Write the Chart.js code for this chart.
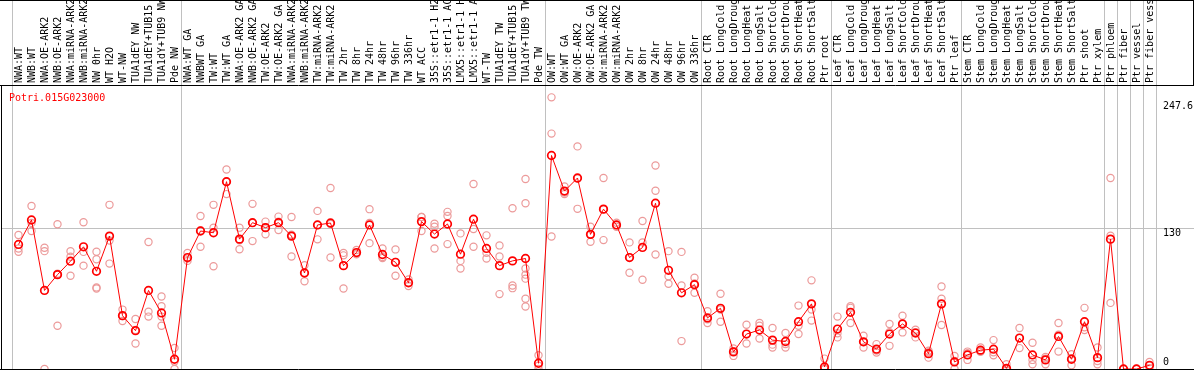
<!DOCTYPE html>
<html>
<head>
<meta charset="utf-8">
<script src="https://cdn.jsdelivr.net/npm/chart.js@4.4.1/dist/chart.umd.min.js"></script>
<style>
  body { margin: 0; background: #fff; }
</style>
</head>
<body>
<canvas id="geneChart" width="1194" height="370"></canvas>
<script>
const geneName = 'Potri.015G023000';

const categories = [
  'NWA:WT', 'NWB:WT', 'NWA:OE-ARK2', 'NWB:OE-ARK2', 'NWA:miRNA-ARK2', 'NWB:miRNA-ARK2', 'NW 0hr', 'WT H2O', 'WT-NW',
  'TUA1dEY NW', 'TUA1dEY+TUB15 NW', 'TUA1dY+TUB9 NW', 'Pde NW',
  'NWA:WT GA', 'NWBWT GA', 'TW:WT', 'TW:WT GA', 'NWA:OE-ARK2 GA', 'NWB:OE-ARK2 GA', 'TW:OE-ARK2', 'TW:OE-ARK2 GA',
  'NWA:miRNA-ARK2', 'NWB:miRNA-ARK2', 'TW:miRNA-ARK2', 'TW:miRNA-ARK2', 'TW 2hr', 'TW 8hr', 'TW 24hr', 'TW 48hr',
  'TW 96hr', 'TW 336hr', 'WT ACC', '35S::etr1-1 H2O', '35S::etr1-1 ACC', 'LMX5::etr1-1 H2O', 'LMX5::etr1-1 ACC',
  'WT-TW', 'TUA1dEY TW', 'TUA1dEY+TUB15 TW', 'TUA1dY+TUB9 TW', 'Pde TW',
  'OW:WT', 'OW:WT GA', 'OW:OE-ARK2', 'OW:OE-ARK2 GA', 'OW:miRNA-ARK2', 'OW:miRNA-ARK2', 'OW 2hr', 'OW 8hr',
  'OW 24hr', 'OW 48hr', 'OW 96hr', 'OW 336hr',
  'Root CTR', 'Root LongCold', 'Root LongDrought', 'Root LongHeat', 'Root LongSalt', 'Root ShortCold',
  'Root ShortDrought', 'Root ShortHeat', 'Root ShortSalt', 'Ptr root',
  'Leaf CTR', 'Leaf LongCold', 'Leaf LongDrought', 'Leaf LongHeat', 'Leaf LongSalt', 'Leaf ShortCold',
  'Leaf ShortDrought', 'Leaf ShortHeat', 'Leaf ShortSalt', 'Ptr leaf',
  'Stem CTR', 'Stem LongCold', 'Stem LongDrought', 'Stem LongHeat', 'Stem LongSalt', 'Stem ShortCold',
  'Stem ShortDrought', 'Stem ShortHeat', 'Stem ShortSalt', 'Ptr shoot',
  'Ptr xylem', 'Ptr phloem', 'Ptr fiber', 'Ptr vessel', 'Ptr fiber vessel'
];

// mean expression per sample
const means = [
  115.1, 137.7, 72.6, 87.2, 99.6, 112.9, 90.3, 122.8, 49.3, 35.4, 72.6, 51.8, 9.0,
  103.0, 127.5, 125.9, 173.1, 120.0, 135.2, 130.6, 135.2, 122.8, 88.7, 133.1, 134.9, 95.5, 107.6, 133.1,
  105.8, 98.6, 79.7, 136.2, 124.7, 134.0, 106.1, 138.4, 111.4, 95.5, 99.9, 102.1, 5.3,
  197.3, 164.4, 176.5, 124.4, 147.7, 133.1, 103.0, 112.3, 153.2, 91.2, 70.4, 77.9,
  47.2, 56.1, 15.8, 32.3, 36.0, 26.7, 25.4, 43.7, 60.2, 1.9,
  36.9, 52.4, 25.1, 18.3, 32.3, 41.6, 33.2, 14.2, 60.2, 6.5,
  13.0, 17.4, 18.3, 0.6, 28.6, 13.0, 8.4, 30.1, 9.0, 43.7,
  10.5, 120.0, 0, 0, 3.4
];

// individual replicates per sample
const replicates = [
  [123.8, 111.4, 108.3], [150.7, 135, 127.5], [112, 108.9, 0], [133.7, 88, 40], [108.9, 103.7, 86.2],
  [135.6, 108.2, 95.5], [108.3, 101.4, 75.4, 74.4], [151.7, 118.8, 97.4], [54.9, 49, 44.4], [46.2, 36, 23.6],
  [117.3, 53, 48.4], [67, 58, 48.4, 40], [19.5, 7, 0],
  [107.3, 102, 99.9], [141.4, 128, 112.9], [151.7, 130.6, 94.9], [184.3, 173, 161.6], [130.6, 119, 110.7],
  [152.6, 135, 118.2], [136.2, 131, 124.4], [140.8, 136, 128.4], [140.5, 124, 103.9], [95.8, 89, 81],
  [146.1, 133, 119.8], [167.2, 134, 103], [107.3, 105, 74.4], [110, 107, 106], [147.7, 135, 116.3],
  [111.4, 103.5, 102.6], [110.5, 99, 86.2], [82.8, 80, 76.6], [140.5, 140.5, 127.5], [134.3, 131.5, 111.4],
  [145.2, 141.4, 115.4], [125.3, 99.9, 92.8], [170.9, 129.3, 112.9], [123.5, 107.3, 102.1], [114.2, 103.9, 69.2],
  [148.6, 77.2, 74.7], [175.5, 153.2, 92.8, 87.2, 83.5, 64.9, 57.7], [12.7, 3, 0],
  [251, 217.5, 122.5], [168.7, 163, 161.6], [205.7, 176, 148], [131.5, 124, 117.5], [176.5, 147.5, 119.1],
  [135.2, 133, 131.5], [117, 103, 89], [136.8, 117, 82.5], [188, 164.7, 105.8], [108.9, 85.6, 78.8],
  [108.2, 77.2, 25.8], [84.4, 79, 70.4],
  [53.3, 46, 42.5], [69.5, 55, 43.7], [18.9, 16.5, 12.1], [40.9, 32.5, 23.6], [42.5, 40, 28.2],
  [37.9, 22.5, 19.8], [33.2, 23, 19.8], [58.6, 40, 32.3], [81.9, 54.9, 44.7], [9.6, 0, 0],
  [48.4, 33, 29.2], [58, 56.5, 42.5], [30.7, 25, 19.8], [23, 17, 15.2], [41.6, 34, 21.4],
  [49.3, 42, 33.8], [36.3, 34, 29.2], [16.8, 15.5, 10.5], [76.3, 64.9, 40.7], [12.1, 7.5, 0],
  [16.1, 14.5, 8.4], [19.8, 16.5, 15.8], [26.7, 15.5, 12.7], [4.4, 0, 0], [37.9, 28.6, 19.3],
  [24.2, 8.4, 4.4], [11.2, 9.6, 4.4], [42.5, 31.7, 16.1], [13.7, 10, 3.4], [56.5, 38.6, 36],
  [19.8, 7.4, 4.3], [176.5, 123.1, 61.1], [0, 0, 0], [0, 0, 0], [6.5, 3, 0.7]
];

const yTicks = [0, 130, 247.6];
const groupStarts = [0, 13, 41, 53, 63, 73, 84, 85, 86, 87];

const FONT = '"DejaVu Sans Mono", monospace';
const GRID = '#c0c0c0';

const frame = {
  id: 'frame',
  afterDraw(chart) {
    const { ctx, chartArea, scales } = chart;
    const w = chart.width, h = chart.height;
    const y130 = Math.round(scales.y.getPixelForValue(130) - 0.5) + 0.5;
    ctx.save();
    ctx.lineWidth = 1;
    ctx.strokeStyle = GRID;
    ctx.beginPath();
    ctx.moveTo(1, y130);
    ctx.lineTo(chartArea.left, y130);
    ctx.stroke();

    ctx.strokeStyle = '#000';
    ctx.beginPath();
    ctx.moveTo(0, 0.5); ctx.lineTo(w, 0.5);
    ctx.moveTo(0, chartArea.top - 0.5); ctx.lineTo(w, chartArea.top - 0.5);
    ctx.moveTo(1.5, chartArea.top); ctx.lineTo(1.5, h);
    ctx.moveTo(0, chartArea.bottom + 0.5); ctx.lineTo(w, chartArea.bottom + 0.5);
    ctx.moveTo(w - 0.5, 0); ctx.lineTo(w - 0.5, chartArea.top);
    ctx.stroke();

    ctx.fillStyle = '#ff0000';
    ctx.font = '10px ' + FONT;
    ctx.textBaseline = 'alphabetic';
    ctx.fillText(geneName, 9, 101);
    ctx.restore();
  }
};

new Chart(document.getElementById('geneChart'), {
  type: 'line',
  data: {
    datasets: [{
      data: means.map((v, i) => ({ x: i, y: v })),
      borderColor: '#ff0000',
      borderWidth: 1,
      tension: 0,
      pointRadius: 3.8,
      pointBorderWidth: 1.7,
      pointBorderColor: '#ff0000',
      pointBackgroundColor: 'rgba(0,0,0,0)',
      clip: false
    }, {
      data: replicates.flatMap((vals, i) => vals.map(v => ({ x: i, y: v }))),
      showLine: false,
      pointRadius: 3.6,
      pointBorderWidth: 1.2,
      pointBorderColor: '#ec9a9a',
      pointBackgroundColor: 'rgba(0,0,0,0)',
      clip: false
    }]
  },
  options: {
    responsive: false,
    animation: false,
    devicePixelRatio: 1,
    layout: { autoPadding: false, padding: { left: 12, right: 0, top: 0, bottom: 1 } },
    plugins: { legend: { display: false }, tooltip: { enabled: false } },
    scales: {
      x: {
        type: 'linear',
        position: 'top',
        min: -0.5,
        max: categories.length - 0.5,
        afterBuildTicks: s => { s.ticks = categories.map((_, i) => ({ value: i })); },
        afterFit: s => { s.height = 86; s.paddingLeft = s.paddingRight = s.paddingTop = s.paddingBottom = 0; },
        border: { display: false },
        grid: {
          offset: true,
          tickLength: 86,
          color: c => (c.type === 'scale' || groupStarts.includes(c.index)) ? GRID : 'rgba(0,0,0,0)'
        },
        ticks: {
          autoSkip: false,
          minRotation: 90,
          maxRotation: 90,
          padding: -83,
          labelOffset: 12.5,
          color: '#000',
          font: { family: FONT, size: 10 },
          callback: v => categories[v]
        }
      },
      y: {
        type: 'linear',
        position: 'right',
        min: 0,
        max: 261.5,
        afterBuildTicks: s => { s.ticks = yTicks.map(v => ({ value: v })); },
        afterFit: s => { s.width = 38; s.paddingTop = s.paddingBottom = 0; },
        border: { display: false },
        grid: {
          tickLength: 38,
          color: c => (c.tick && c.tick.value === 130) ? GRID : 'rgba(0,0,0,0)'
        },
        ticks: {
          align: 'start',
          padding: -31,
          color: '#000',
          font: { family: FONT, size: 10 },
          callback: v => v === 0 ? ['0', '', ''] : String(v)
        }
      }
    }
  },
  plugins: [frame]
});
</script>
</body>
</html>
